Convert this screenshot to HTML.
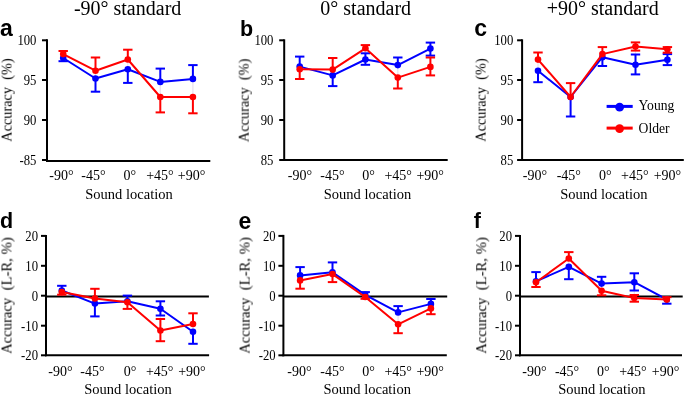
<!DOCTYPE html>
<html><head><meta charset="utf-8"><title>Figure</title><style>html,body{margin:0;padding:0;background:#fff;width:685px;height:395px;overflow:hidden;}svg{display:block;} text{will-change:transform;}</style></head><body>
<svg width="685" height="395" viewBox="0 0 685 395">
<rect width="685" height="395" fill="#fff"/>
<text x="127.6" y="14.6" font-family="&quot;Liberation Serif&quot;, serif" font-size="20" text-anchor="middle" fill="#000">-90° standard</text>
<text x="365.7" y="14.6" font-family="&quot;Liberation Serif&quot;, serif" font-size="20" text-anchor="middle" fill="#000">0° standard</text>
<text x="602.7" y="14.6" font-family="&quot;Liberation Serif&quot;, serif" font-size="20" text-anchor="middle" fill="#000">+90° standard</text>
<text x="-0.09999999999999998" y="35.9" font-family="&quot;Liberation Sans&quot;, sans-serif" font-weight="bold" font-size="23" fill="#000">a</text>
<text x="239.9" y="35.6" font-family="&quot;Liberation Sans&quot;, sans-serif" font-weight="bold" font-size="21.5" fill="#000">b</text>
<text x="474.2" y="36.0" font-family="&quot;Liberation Sans&quot;, sans-serif" font-weight="bold" font-size="23" fill="#000">c</text>
<text x="-0.09999999999999998" y="228.0" font-family="&quot;Liberation Sans&quot;, sans-serif" font-weight="bold" font-size="21.5" fill="#000">d</text>
<text x="238.6" y="228.6" font-family="&quot;Liberation Sans&quot;, sans-serif" font-weight="bold" font-size="23" fill="#000">e</text>
<text x="473.7" y="227.9" font-family="&quot;Liberation Sans&quot;, sans-serif" font-weight="bold" font-size="21.5" fill="#000">f</text>
<g stroke="#000" stroke-width="2.0" fill="none">
<line x1="47.0" y1="39.3" x2="47.0" y2="161.9"/>
<line x1="46.0" y1="160.9" x2="210.3" y2="160.9"/>
<line x1="42.0" y1="40.3" x2="47.0" y2="40.3"/>
<line x1="42.0" y1="80.0" x2="47.0" y2="80.0"/>
<line x1="42.0" y1="120.0" x2="47.0" y2="120.0"/>
<line x1="42.0" y1="160.0" x2="47.0" y2="160.0"/>
</g>
<text transform="translate(36.40,45.30) scale(0.92,1.001)" font-family="&quot;Liberation Serif&quot;, serif" font-size="13.8" text-anchor="end" fill="#000">100</text>
<text transform="translate(36.40,85.00) scale(0.92,1.001)" font-family="&quot;Liberation Serif&quot;, serif" font-size="13.8" text-anchor="end" fill="#000">95</text>
<text transform="translate(36.40,125.00) scale(0.92,1.001)" font-family="&quot;Liberation Serif&quot;, serif" font-size="13.8" text-anchor="end" fill="#000">90</text>
<text transform="translate(36.40,165.00) scale(0.92,1.001)" font-family="&quot;Liberation Serif&quot;, serif" font-size="13.8" text-anchor="end" fill="#000">-85</text>
<text x="61.50" y="180.00" font-family="&quot;Liberation Serif&quot;, serif" font-size="14" text-anchor="middle" fill="#000">-90°</text>
<text x="93.50" y="180.00" font-family="&quot;Liberation Serif&quot;, serif" font-size="14" text-anchor="middle" fill="#000">-45°</text>
<text x="129.80" y="180.00" font-family="&quot;Liberation Serif&quot;, serif" font-size="14" text-anchor="middle" fill="#000">0°</text>
<text x="159.90" y="180.00" font-family="&quot;Liberation Serif&quot;, serif" font-size="14" text-anchor="middle" fill="#000">+45°</text>
<text x="191.50" y="180.00" font-family="&quot;Liberation Serif&quot;, serif" font-size="14" text-anchor="middle" fill="#000">+90°</text>
<text x="129.0" y="198.5" font-family="&quot;Liberation Serif&quot;, serif" font-size="14.5" text-anchor="middle" fill="#000">Sound location</text>
<text transform="translate(11.60,100.1) rotate(-90)" font-family="&quot;Liberation Serif&quot;, serif" font-size="14.3" text-anchor="middle" fill="#000" xml:space="preserve">Accuracy  (%)</text>
<g stroke="#ebe1f0" stroke-width="1.3"><line x1="95.5" y1="70.7" x2="95.5" y2="78.5"/><line x1="127.8" y1="59.5" x2="127.8" y2="69.2"/><line x1="160.3" y1="81.9" x2="160.3" y2="97.0"/><line x1="192.9" y1="78.9" x2="192.9" y2="97.0"/></g>
<g stroke="#0000ff" stroke-width="2.0" fill="none"><line x1="63.2" y1="58.0" x2="63.2" y2="61.2"/><line x1="58.5" y1="61.2" x2="67.9" y2="61.2"/><line x1="95.5" y1="78.5" x2="95.5" y2="91.7"/><line x1="90.8" y1="91.7" x2="100.2" y2="91.7"/><line x1="127.8" y1="69.2" x2="127.8" y2="82.9"/><line x1="123.1" y1="82.9" x2="132.5" y2="82.9"/><line x1="160.3" y1="68.6" x2="160.3" y2="81.9"/><line x1="155.60000000000002" y1="68.6" x2="165.0" y2="68.6"/><line x1="192.9" y1="65.1" x2="192.9" y2="78.9"/><line x1="188.20000000000002" y1="65.1" x2="197.6" y2="65.1"/><polyline points="63.2,58.0 95.5,78.5 127.8,69.2 160.3,81.9 192.9,78.9" stroke-linejoin="round"/></g>
<circle cx="63.2" cy="58.0" r="3.3" fill="#0000ff"/><circle cx="95.5" cy="78.5" r="3.3" fill="#0000ff"/><circle cx="127.8" cy="69.2" r="3.3" fill="#0000ff"/><circle cx="160.3" cy="81.9" r="3.3" fill="#0000ff"/><circle cx="192.9" cy="78.9" r="3.3" fill="#0000ff"/>
<g stroke="#ff0000" stroke-width="2.0" fill="none"><line x1="63.2" y1="51.0" x2="63.2" y2="54.1"/><line x1="58.5" y1="51.0" x2="67.9" y2="51.0"/><line x1="95.5" y1="57.5" x2="95.5" y2="70.7"/><line x1="90.8" y1="57.5" x2="100.2" y2="57.5"/><line x1="127.8" y1="49.7" x2="127.8" y2="59.5"/><line x1="123.1" y1="49.7" x2="132.5" y2="49.7"/><line x1="160.3" y1="97.0" x2="160.3" y2="112.4"/><line x1="155.60000000000002" y1="112.4" x2="165.0" y2="112.4"/><line x1="192.9" y1="97.0" x2="192.9" y2="113.3"/><line x1="188.20000000000002" y1="113.3" x2="197.6" y2="113.3"/><polyline points="63.2,54.1 95.5,70.7 127.8,59.5 160.3,97.0 192.9,97.0" stroke-linejoin="round"/></g>
<circle cx="63.2" cy="54.1" r="3.3" fill="#ff0000"/><circle cx="95.5" cy="70.7" r="3.3" fill="#ff0000"/><circle cx="127.8" cy="59.5" r="3.3" fill="#ff0000"/><circle cx="160.3" cy="97.0" r="3.3" fill="#ff0000"/><circle cx="192.9" cy="97.0" r="3.3" fill="#ff0000"/>
<g stroke="#000" stroke-width="2.0" fill="none">
<line x1="284.2" y1="39.3" x2="284.2" y2="161.0"/>
<line x1="283.2" y1="160.0" x2="447.7" y2="160.0"/>
<line x1="279.2" y1="40.3" x2="284.2" y2="40.3"/>
<line x1="279.2" y1="80.0" x2="284.2" y2="80.0"/>
<line x1="279.2" y1="120.0" x2="284.2" y2="120.0"/>
<line x1="279.2" y1="160.0" x2="284.2" y2="160.0"/>
</g>
<text transform="translate(273.40,45.30) scale(0.92,1.001)" font-family="&quot;Liberation Serif&quot;, serif" font-size="13.8" text-anchor="end" fill="#000">100</text>
<text transform="translate(273.40,85.00) scale(0.92,1.001)" font-family="&quot;Liberation Serif&quot;, serif" font-size="13.8" text-anchor="end" fill="#000">95</text>
<text transform="translate(273.40,125.00) scale(0.92,1.001)" font-family="&quot;Liberation Serif&quot;, serif" font-size="13.8" text-anchor="end" fill="#000">90</text>
<text transform="translate(273.40,165.00) scale(0.92,1.001)" font-family="&quot;Liberation Serif&quot;, serif" font-size="13.8" text-anchor="end" fill="#000">85</text>
<text x="300.00" y="180.00" font-family="&quot;Liberation Serif&quot;, serif" font-size="14" text-anchor="middle" fill="#000">-90°</text>
<text x="332.40" y="180.00" font-family="&quot;Liberation Serif&quot;, serif" font-size="14" text-anchor="middle" fill="#000">-45°</text>
<text x="368.50" y="180.00" font-family="&quot;Liberation Serif&quot;, serif" font-size="14" text-anchor="middle" fill="#000">0°</text>
<text x="398.20" y="180.00" font-family="&quot;Liberation Serif&quot;, serif" font-size="14" text-anchor="middle" fill="#000">+45°</text>
<text x="430.20" y="180.00" font-family="&quot;Liberation Serif&quot;, serif" font-size="14" text-anchor="middle" fill="#000">+90°</text>
<text x="367.5" y="198.5" font-family="&quot;Liberation Serif&quot;, serif" font-size="14.5" text-anchor="middle" fill="#000">Sound location</text>
<text transform="translate(248.70,100.4) rotate(-90)" font-family="&quot;Liberation Serif&quot;, serif" font-size="14.3" text-anchor="middle" fill="#000" xml:space="preserve">Accuracy  (%)</text>
<g stroke="#ebe1f0" stroke-width="1.3"><line x1="365.4" y1="48.3" x2="365.4" y2="59.5"/><line x1="397.8" y1="65.1" x2="397.8" y2="77.6"/><line x1="430.4" y1="48.6" x2="430.4" y2="66.9"/></g>
<g stroke="#0000ff" stroke-width="2.0" fill="none"><line x1="299.7" y1="56.6" x2="299.7" y2="66.6"/><line x1="295.0" y1="56.6" x2="304.4" y2="56.6"/><line x1="332.7" y1="75.4" x2="332.7" y2="86.1"/><line x1="328.0" y1="86.1" x2="337.4" y2="86.1"/><line x1="365.4" y1="53.3" x2="365.4" y2="59.5"/><line x1="360.7" y1="53.3" x2="370.09999999999997" y2="53.3"/><line x1="365.4" y1="59.5" x2="365.4" y2="64.8"/><line x1="360.7" y1="64.8" x2="370.09999999999997" y2="64.8"/><line x1="397.8" y1="57.5" x2="397.8" y2="65.1"/><line x1="393.1" y1="57.5" x2="402.5" y2="57.5"/><line x1="430.4" y1="42.6" x2="430.4" y2="48.6"/><line x1="425.7" y1="42.6" x2="435.09999999999997" y2="42.6"/><line x1="430.4" y1="48.6" x2="430.4" y2="55.6"/><line x1="425.7" y1="55.6" x2="435.09999999999997" y2="55.6"/><polyline points="299.7,66.6 332.7,75.4 365.4,59.5 397.8,65.1 430.4,48.6" stroke-linejoin="round"/></g>
<circle cx="299.7" cy="66.6" r="3.3" fill="#0000ff"/><circle cx="332.7" cy="75.4" r="3.3" fill="#0000ff"/><circle cx="365.4" cy="59.5" r="3.3" fill="#0000ff"/><circle cx="397.8" cy="65.1" r="3.3" fill="#0000ff"/><circle cx="430.4" cy="48.6" r="3.3" fill="#0000ff"/>
<g stroke="#ff0000" stroke-width="2.0" fill="none"><line x1="299.7" y1="69.2" x2="299.7" y2="79.0"/><line x1="295.0" y1="79.0" x2="304.4" y2="79.0"/><line x1="332.7" y1="58.0" x2="332.7" y2="69.6"/><line x1="328.0" y1="58.0" x2="337.4" y2="58.0"/><line x1="365.4" y1="45.1" x2="365.4" y2="48.3"/><line x1="360.7" y1="45.1" x2="370.09999999999997" y2="45.1"/><line x1="397.8" y1="77.6" x2="397.8" y2="88.5"/><line x1="393.1" y1="88.5" x2="402.5" y2="88.5"/><line x1="430.4" y1="57.5" x2="430.4" y2="66.9"/><line x1="425.7" y1="57.5" x2="435.09999999999997" y2="57.5"/><line x1="430.4" y1="66.9" x2="430.4" y2="75.4"/><line x1="425.7" y1="75.4" x2="435.09999999999997" y2="75.4"/><polyline points="299.7,69.2 332.7,69.6 365.4,48.3 397.8,77.6 430.4,66.9" stroke-linejoin="round"/></g>
<circle cx="299.7" cy="69.2" r="3.3" fill="#ff0000"/><circle cx="332.7" cy="69.6" r="3.3" fill="#ff0000"/><circle cx="365.4" cy="48.3" r="3.3" fill="#ff0000"/><circle cx="397.8" cy="77.6" r="3.3" fill="#ff0000"/><circle cx="430.4" cy="66.9" r="3.3" fill="#ff0000"/>
<g stroke="#000" stroke-width="2.0" fill="none">
<line x1="522.1" y1="39.3" x2="522.1" y2="161.0"/>
<line x1="521.1" y1="160.0" x2="683.8" y2="160.0"/>
<line x1="517.1" y1="40.3" x2="522.1" y2="40.3"/>
<line x1="517.1" y1="80.0" x2="522.1" y2="80.0"/>
<line x1="517.1" y1="120.0" x2="522.1" y2="120.0"/>
<line x1="517.1" y1="160.0" x2="522.1" y2="160.0"/>
</g>
<text transform="translate(513.30,45.30) scale(0.92,1.001)" font-family="&quot;Liberation Serif&quot;, serif" font-size="13.8" text-anchor="end" fill="#000">100</text>
<text transform="translate(513.30,85.00) scale(0.92,1.001)" font-family="&quot;Liberation Serif&quot;, serif" font-size="13.8" text-anchor="end" fill="#000">95</text>
<text transform="translate(513.30,125.00) scale(0.92,1.001)" font-family="&quot;Liberation Serif&quot;, serif" font-size="13.8" text-anchor="end" fill="#000">90</text>
<text transform="translate(513.30,165.00) scale(0.92,1.001)" font-family="&quot;Liberation Serif&quot;, serif" font-size="13.8" text-anchor="end" fill="#000">85</text>
<text x="535.00" y="180.00" font-family="&quot;Liberation Serif&quot;, serif" font-size="14" text-anchor="middle" fill="#000">-90°</text>
<text x="568.80" y="180.00" font-family="&quot;Liberation Serif&quot;, serif" font-size="14" text-anchor="middle" fill="#000">-45°</text>
<text x="605.30" y="180.00" font-family="&quot;Liberation Serif&quot;, serif" font-size="14" text-anchor="middle" fill="#000">0°</text>
<text x="634.80" y="180.00" font-family="&quot;Liberation Serif&quot;, serif" font-size="14" text-anchor="middle" fill="#000">+45°</text>
<text x="667.40" y="180.00" font-family="&quot;Liberation Serif&quot;, serif" font-size="14" text-anchor="middle" fill="#000">+90°</text>
<text x="603.9" y="198.5" font-family="&quot;Liberation Serif&quot;, serif" font-size="14.5" text-anchor="middle" fill="#000">Sound location</text>
<text transform="translate(485.60,100.1) rotate(-90)" font-family="&quot;Liberation Serif&quot;, serif" font-size="14.3" text-anchor="middle" fill="#000" xml:space="preserve">Accuracy  (%)</text>
<g stroke="#ebe1f0" stroke-width="1.3"><line x1="538.0" y1="59.6" x2="538.0" y2="70.8"/><line x1="635.5" y1="46.5" x2="635.5" y2="64.8"/><line x1="667.4" y1="49.2" x2="667.4" y2="59.8"/></g>
<g stroke="#0000ff" stroke-width="2.0" fill="none"><line x1="538.0" y1="70.8" x2="538.0" y2="82.2"/><line x1="533.3" y1="82.2" x2="542.7" y2="82.2"/><line x1="570.6" y1="97.0" x2="570.6" y2="116.5"/><line x1="565.9" y1="116.5" x2="575.3000000000001" y2="116.5"/><line x1="602.4" y1="57.2" x2="602.4" y2="66.0"/><line x1="597.6999999999999" y1="66.0" x2="607.1" y2="66.0"/><line x1="635.5" y1="54.5" x2="635.5" y2="64.8"/><line x1="630.8" y1="54.5" x2="640.2" y2="54.5"/><line x1="635.5" y1="64.8" x2="635.5" y2="74.4"/><line x1="630.8" y1="74.4" x2="640.2" y2="74.4"/><line x1="667.4" y1="54.1" x2="667.4" y2="59.8"/><line x1="662.6999999999999" y1="54.1" x2="672.1" y2="54.1"/><line x1="667.4" y1="59.8" x2="667.4" y2="65.1"/><line x1="662.6999999999999" y1="65.1" x2="672.1" y2="65.1"/><polyline points="538.0,70.8 570.6,97.0 602.4,57.2 635.5,64.8 667.4,59.8" stroke-linejoin="round"/></g>
<circle cx="538.0" cy="70.8" r="3.3" fill="#0000ff"/><circle cx="570.6" cy="97.0" r="3.3" fill="#0000ff"/><circle cx="602.4" cy="57.2" r="3.3" fill="#0000ff"/><circle cx="635.5" cy="64.8" r="3.3" fill="#0000ff"/><circle cx="667.4" cy="59.8" r="3.3" fill="#0000ff"/>
<g stroke="#ff0000" stroke-width="2.0" fill="none"><line x1="538.0" y1="52.5" x2="538.0" y2="59.6"/><line x1="533.3" y1="52.5" x2="542.7" y2="52.5"/><line x1="570.6" y1="83.1" x2="570.6" y2="97.0"/><line x1="565.9" y1="83.1" x2="575.3000000000001" y2="83.1"/><line x1="602.4" y1="47.1" x2="602.4" y2="54.1"/><line x1="597.6999999999999" y1="47.1" x2="607.1" y2="47.1"/><line x1="635.5" y1="42.4" x2="635.5" y2="46.5"/><line x1="630.8" y1="42.4" x2="640.2" y2="42.4"/><line x1="635.5" y1="46.5" x2="635.5" y2="50.6"/><line x1="630.8" y1="50.6" x2="640.2" y2="50.6"/><line x1="667.4" y1="47.1" x2="667.4" y2="49.2"/><line x1="662.6999999999999" y1="47.1" x2="672.1" y2="47.1"/><line x1="667.4" y1="49.2" x2="667.4" y2="52.7"/><line x1="662.6999999999999" y1="52.7" x2="672.1" y2="52.7"/><polyline points="538.0,59.6 570.6,97.0 602.4,54.1 635.5,46.5 667.4,49.2" stroke-linejoin="round"/></g>
<circle cx="538.0" cy="59.6" r="3.3" fill="#ff0000"/><circle cx="570.6" cy="97.0" r="3.3" fill="#ff0000"/><circle cx="602.4" cy="54.1" r="3.3" fill="#ff0000"/><circle cx="635.5" cy="46.5" r="3.3" fill="#ff0000"/><circle cx="667.4" cy="49.2" r="3.3" fill="#ff0000"/>
<g stroke="#000" stroke-width="2.0" fill="none">
<line x1="46.0" y1="234.9" x2="46.0" y2="356.2"/>
<line x1="45.0" y1="355.2" x2="209.1" y2="355.2"/>
<line x1="41.0" y1="235.9" x2="46.0" y2="235.9"/>
<line x1="41.0" y1="265.8" x2="46.0" y2="265.8"/>
<line x1="41.0" y1="295.7" x2="46.0" y2="295.7"/>
<line x1="41.0" y1="325.7" x2="46.0" y2="325.7"/>
<line x1="41.0" y1="355.3" x2="46.0" y2="355.3"/>
<line x1="46.0" y1="296.4" x2="208.9" y2="296.4"/>
</g>
<text transform="translate(38.00,240.90) scale(0.92,1.001)" font-family="&quot;Liberation Serif&quot;, serif" font-size="13.8" text-anchor="end" fill="#000">20</text>
<text transform="translate(38.00,270.80) scale(0.92,1.001)" font-family="&quot;Liberation Serif&quot;, serif" font-size="13.8" text-anchor="end" fill="#000">10</text>
<text transform="translate(38.00,300.70) scale(0.92,1.001)" font-family="&quot;Liberation Serif&quot;, serif" font-size="13.8" text-anchor="end" fill="#000">0</text>
<text transform="translate(38.00,330.70) scale(0.92,1.001)" font-family="&quot;Liberation Serif&quot;, serif" font-size="13.8" text-anchor="end" fill="#000">-10</text>
<text transform="translate(38.00,360.30) scale(0.92,1.001)" font-family="&quot;Liberation Serif&quot;, serif" font-size="13.8" text-anchor="end" fill="#000">-20</text>
<text x="60.50" y="375.50" font-family="&quot;Liberation Serif&quot;, serif" font-size="14" text-anchor="middle" fill="#000">-90°</text>
<text x="92.50" y="375.50" font-family="&quot;Liberation Serif&quot;, serif" font-size="14" text-anchor="middle" fill="#000">-45°</text>
<text x="130.10" y="375.50" font-family="&quot;Liberation Serif&quot;, serif" font-size="14" text-anchor="middle" fill="#000">0°</text>
<text x="159.70" y="375.50" font-family="&quot;Liberation Serif&quot;, serif" font-size="14" text-anchor="middle" fill="#000">+45°</text>
<text x="191.90" y="375.50" font-family="&quot;Liberation Serif&quot;, serif" font-size="14" text-anchor="middle" fill="#000">+90°</text>
<text x="128.0" y="394.1" font-family="&quot;Liberation Serif&quot;, serif" font-size="14.5" text-anchor="middle" fill="#000">Sound location</text>
<text transform="translate(11.50,295.6) rotate(-90)" font-family="&quot;Liberation Serif&quot;, serif" font-size="14.7" text-anchor="middle" fill="#000" xml:space="preserve">Accuracy  (L-R, %)</text>
<g stroke="#ebe1f0" stroke-width="1.3"><line x1="160.4" y1="308.7" x2="160.4" y2="330.5"/><line x1="193.0" y1="324.0" x2="193.0" y2="331.8"/></g>
<g stroke="#0000ff" stroke-width="2.0" fill="none"><line x1="61.8" y1="285.8" x2="61.8" y2="290.5"/><line x1="57.099999999999994" y1="285.8" x2="66.5" y2="285.8"/><line x1="94.9" y1="303.6" x2="94.9" y2="316.4"/><line x1="90.2" y1="316.4" x2="99.60000000000001" y2="316.4"/><line x1="127.4" y1="295.6" x2="127.4" y2="301.3"/><line x1="122.7" y1="295.6" x2="132.1" y2="295.6"/><line x1="160.4" y1="301.3" x2="160.4" y2="308.7"/><line x1="155.70000000000002" y1="301.3" x2="165.1" y2="301.3"/><line x1="160.4" y1="308.7" x2="160.4" y2="315.5"/><line x1="155.70000000000002" y1="315.5" x2="165.1" y2="315.5"/><line x1="193.0" y1="331.8" x2="193.0" y2="343.8"/><line x1="188.3" y1="343.8" x2="197.7" y2="343.8"/><polyline points="61.8,290.5 94.9,303.6 127.4,301.3 160.4,308.7 193.0,331.8" stroke-linejoin="round"/></g>
<circle cx="61.8" cy="290.5" r="3.3" fill="#0000ff"/><circle cx="94.9" cy="303.6" r="3.3" fill="#0000ff"/><circle cx="127.4" cy="301.3" r="3.3" fill="#0000ff"/><circle cx="160.4" cy="308.7" r="3.3" fill="#0000ff"/><circle cx="193.0" cy="331.8" r="3.3" fill="#0000ff"/>
<g stroke="#ff0000" stroke-width="2.0" fill="none"><line x1="61.8" y1="292.1" x2="61.8" y2="294.7"/><line x1="57.099999999999994" y1="294.7" x2="66.5" y2="294.7"/><line x1="94.9" y1="288.8" x2="94.9" y2="298.4"/><line x1="90.2" y1="288.8" x2="99.60000000000001" y2="288.8"/><line x1="127.4" y1="302.2" x2="127.4" y2="308.9"/><line x1="122.7" y1="308.9" x2="132.1" y2="308.9"/><line x1="160.4" y1="319.0" x2="160.4" y2="330.5"/><line x1="155.70000000000002" y1="319.0" x2="165.1" y2="319.0"/><line x1="160.4" y1="330.5" x2="160.4" y2="341.2"/><line x1="155.70000000000002" y1="341.2" x2="165.1" y2="341.2"/><line x1="193.0" y1="313.3" x2="193.0" y2="324.0"/><line x1="188.3" y1="313.3" x2="197.7" y2="313.3"/><polyline points="61.8,292.1 94.9,298.4 127.4,302.2 160.4,330.5 193.0,324.0" stroke-linejoin="round"/></g>
<circle cx="61.8" cy="292.1" r="3.3" fill="#ff0000"/><circle cx="94.9" cy="298.4" r="3.3" fill="#ff0000"/><circle cx="127.4" cy="302.2" r="3.3" fill="#ff0000"/><circle cx="160.4" cy="330.5" r="3.3" fill="#ff0000"/><circle cx="193.0" cy="324.0" r="3.3" fill="#ff0000"/>
<g stroke="#000" stroke-width="2.0" fill="none">
<line x1="283.4" y1="234.9" x2="283.4" y2="356.3"/>
<line x1="282.4" y1="355.3" x2="446.8" y2="355.3"/>
<line x1="278.4" y1="235.9" x2="283.4" y2="235.9"/>
<line x1="278.4" y1="265.8" x2="283.4" y2="265.8"/>
<line x1="278.4" y1="295.7" x2="283.4" y2="295.7"/>
<line x1="278.4" y1="325.7" x2="283.4" y2="325.7"/>
<line x1="278.4" y1="355.3" x2="283.4" y2="355.3"/>
<line x1="283.4" y1="296.4" x2="447.2" y2="296.4"/>
</g>
<text transform="translate(275.70,240.90) scale(0.92,1.001)" font-family="&quot;Liberation Serif&quot;, serif" font-size="13.8" text-anchor="end" fill="#000">20</text>
<text transform="translate(275.70,270.80) scale(0.92,1.001)" font-family="&quot;Liberation Serif&quot;, serif" font-size="13.8" text-anchor="end" fill="#000">10</text>
<text transform="translate(275.70,300.70) scale(0.92,1.001)" font-family="&quot;Liberation Serif&quot;, serif" font-size="13.8" text-anchor="end" fill="#000">0</text>
<text transform="translate(275.70,330.70) scale(0.92,1.001)" font-family="&quot;Liberation Serif&quot;, serif" font-size="13.8" text-anchor="end" fill="#000">-10</text>
<text transform="translate(275.70,360.30) scale(0.92,1.001)" font-family="&quot;Liberation Serif&quot;, serif" font-size="13.8" text-anchor="end" fill="#000">-20</text>
<text x="299.40" y="375.50" font-family="&quot;Liberation Serif&quot;, serif" font-size="14" text-anchor="middle" fill="#000">-90°</text>
<text x="332.40" y="375.50" font-family="&quot;Liberation Serif&quot;, serif" font-size="14" text-anchor="middle" fill="#000">-45°</text>
<text x="368.50" y="375.50" font-family="&quot;Liberation Serif&quot;, serif" font-size="14" text-anchor="middle" fill="#000">0°</text>
<text x="398.20" y="375.50" font-family="&quot;Liberation Serif&quot;, serif" font-size="14" text-anchor="middle" fill="#000">+45°</text>
<text x="430.20" y="375.50" font-family="&quot;Liberation Serif&quot;, serif" font-size="14" text-anchor="middle" fill="#000">+90°</text>
<text x="367.2" y="394.1" font-family="&quot;Liberation Serif&quot;, serif" font-size="14.5" text-anchor="middle" fill="#000">Sound location</text>
<text transform="translate(249.60,295.5) rotate(-90)" font-family="&quot;Liberation Serif&quot;, serif" font-size="14.7" text-anchor="middle" fill="#000" xml:space="preserve">Accuracy  (L-R, %)</text>
<g stroke="#ebe1f0" stroke-width="1.3"><line x1="398.1" y1="312.4" x2="398.1" y2="324.3"/></g>
<g stroke="#0000ff" stroke-width="2.0" fill="none"><line x1="300.1" y1="267.1" x2="300.1" y2="275.4"/><line x1="295.40000000000003" y1="267.1" x2="304.8" y2="267.1"/><line x1="332.5" y1="262.4" x2="332.5" y2="272.2"/><line x1="327.8" y1="262.4" x2="337.2" y2="262.4"/><line x1="365.2" y1="292.1" x2="365.2" y2="294.9"/><line x1="360.5" y1="292.1" x2="369.9" y2="292.1"/><line x1="398.1" y1="306.1" x2="398.1" y2="312.4"/><line x1="393.40000000000003" y1="306.1" x2="402.8" y2="306.1"/><line x1="430.9" y1="299.0" x2="430.9" y2="303.9"/><line x1="426.2" y1="299.0" x2="435.59999999999997" y2="299.0"/><polyline points="300.1,275.4 332.5,272.2 365.2,294.9 398.1,312.4 430.9,303.9" stroke-linejoin="round"/></g>
<circle cx="300.1" cy="275.4" r="3.3" fill="#0000ff"/><circle cx="332.5" cy="272.2" r="3.3" fill="#0000ff"/><circle cx="365.2" cy="294.9" r="3.3" fill="#0000ff"/><circle cx="398.1" cy="312.4" r="3.3" fill="#0000ff"/><circle cx="430.9" cy="303.9" r="3.3" fill="#0000ff"/>
<g stroke="#ff0000" stroke-width="2.0" fill="none"><line x1="300.1" y1="280.4" x2="300.1" y2="288.7"/><line x1="295.40000000000003" y1="288.7" x2="304.8" y2="288.7"/><line x1="332.5" y1="274.1" x2="332.5" y2="282.1"/><line x1="327.8" y1="282.1" x2="337.2" y2="282.1"/><line x1="365.2" y1="297.0" x2="365.2" y2="298.8"/><line x1="360.5" y1="298.8" x2="369.9" y2="298.8"/><line x1="398.1" y1="324.3" x2="398.1" y2="333.2"/><line x1="393.40000000000003" y1="333.2" x2="402.8" y2="333.2"/><line x1="430.9" y1="308.4" x2="430.9" y2="314.2"/><line x1="426.2" y1="314.2" x2="435.59999999999997" y2="314.2"/><polyline points="300.1,280.4 332.5,274.1 365.2,297.0 398.1,324.3 430.9,308.4" stroke-linejoin="round"/></g>
<circle cx="300.1" cy="280.4" r="3.3" fill="#ff0000"/><circle cx="332.5" cy="274.1" r="3.3" fill="#ff0000"/><circle cx="365.2" cy="297.0" r="3.3" fill="#ff0000"/><circle cx="398.1" cy="324.3" r="3.3" fill="#ff0000"/><circle cx="430.9" cy="308.4" r="3.3" fill="#ff0000"/>
<g stroke="#000" stroke-width="2.0" fill="none">
<line x1="520.0" y1="234.9" x2="520.0" y2="356.2"/>
<line x1="519.0" y1="355.2" x2="682.0" y2="355.2"/>
<line x1="515.0" y1="235.9" x2="520.0" y2="235.9"/>
<line x1="515.0" y1="265.8" x2="520.0" y2="265.8"/>
<line x1="515.0" y1="295.7" x2="520.0" y2="295.7"/>
<line x1="515.0" y1="325.7" x2="520.0" y2="325.7"/>
<line x1="515.0" y1="355.3" x2="520.0" y2="355.3"/>
<line x1="520.0" y1="296.4" x2="682.7" y2="296.4"/>
</g>
<text transform="translate(512.00,240.90) scale(0.92,1.001)" font-family="&quot;Liberation Serif&quot;, serif" font-size="13.8" text-anchor="end" fill="#000">20</text>
<text transform="translate(512.00,270.80) scale(0.92,1.001)" font-family="&quot;Liberation Serif&quot;, serif" font-size="13.8" text-anchor="end" fill="#000">10</text>
<text transform="translate(512.00,300.70) scale(0.92,1.001)" font-family="&quot;Liberation Serif&quot;, serif" font-size="13.8" text-anchor="end" fill="#000">0</text>
<text transform="translate(512.00,330.70) scale(0.92,1.001)" font-family="&quot;Liberation Serif&quot;, serif" font-size="13.8" text-anchor="end" fill="#000">-10</text>
<text transform="translate(512.00,360.30) scale(0.92,1.001)" font-family="&quot;Liberation Serif&quot;, serif" font-size="13.8" text-anchor="end" fill="#000">-20</text>
<text x="534.50" y="375.50" font-family="&quot;Liberation Serif&quot;, serif" font-size="14" text-anchor="middle" fill="#000">-90°</text>
<text x="567.10" y="375.50" font-family="&quot;Liberation Serif&quot;, serif" font-size="14" text-anchor="middle" fill="#000">-45°</text>
<text x="603.40" y="375.50" font-family="&quot;Liberation Serif&quot;, serif" font-size="14" text-anchor="middle" fill="#000">0°</text>
<text x="632.90" y="375.50" font-family="&quot;Liberation Serif&quot;, serif" font-size="14" text-anchor="middle" fill="#000">+45°</text>
<text x="665.50" y="375.50" font-family="&quot;Liberation Serif&quot;, serif" font-size="14" text-anchor="middle" fill="#000">+90°</text>
<text x="601.9" y="394.1" font-family="&quot;Liberation Serif&quot;, serif" font-size="14.5" text-anchor="middle" fill="#000">Sound location</text>
<text transform="translate(486.20,295.5) rotate(-90)" font-family="&quot;Liberation Serif&quot;, serif" font-size="14.7" text-anchor="middle" fill="#000" xml:space="preserve">Accuracy  (L-R, %)</text>
<g stroke="#ebe1f0" stroke-width="1.3"><line x1="568.8" y1="258.5" x2="568.8" y2="266.9"/><line x1="601.6" y1="283.6" x2="601.6" y2="290.7"/><line x1="634.3" y1="282.2" x2="634.3" y2="298.1"/></g>
<g stroke="#0000ff" stroke-width="2.0" fill="none"><line x1="536.0" y1="272.1" x2="536.0" y2="281.3"/><line x1="531.3" y1="272.1" x2="540.7" y2="272.1"/><line x1="568.8" y1="266.9" x2="568.8" y2="279.2"/><line x1="564.0999999999999" y1="279.2" x2="573.5" y2="279.2"/><line x1="601.6" y1="276.8" x2="601.6" y2="283.6"/><line x1="596.9" y1="276.8" x2="606.3000000000001" y2="276.8"/><line x1="634.3" y1="273.3" x2="634.3" y2="282.2"/><line x1="629.5999999999999" y1="273.3" x2="639.0" y2="273.3"/><line x1="634.3" y1="282.2" x2="634.3" y2="290.5"/><line x1="629.5999999999999" y1="290.5" x2="639.0" y2="290.5"/><line x1="666.8" y1="299.4" x2="666.8" y2="303.7"/><line x1="662.0999999999999" y1="303.7" x2="671.5" y2="303.7"/><polyline points="536.0,281.3 568.8,266.9 601.6,283.6 634.3,282.2 666.8,299.4" stroke-linejoin="round"/></g>
<circle cx="536.0" cy="281.3" r="3.3" fill="#0000ff"/><circle cx="568.8" cy="266.9" r="3.3" fill="#0000ff"/><circle cx="601.6" cy="283.6" r="3.3" fill="#0000ff"/><circle cx="634.3" cy="282.2" r="3.3" fill="#0000ff"/><circle cx="666.8" cy="299.4" r="3.3" fill="#0000ff"/>
<g stroke="#ff0000" stroke-width="2.0" fill="none"><line x1="536.0" y1="282.3" x2="536.0" y2="287.0"/><line x1="531.3" y1="287.0" x2="540.7" y2="287.0"/><line x1="568.8" y1="252.1" x2="568.8" y2="258.5"/><line x1="564.0999999999999" y1="252.1" x2="573.5" y2="252.1"/><line x1="601.6" y1="290.7" x2="601.6" y2="295.3"/><line x1="596.9" y1="295.3" x2="606.3000000000001" y2="295.3"/><line x1="634.3" y1="295.0" x2="634.3" y2="298.1"/><line x1="629.5999999999999" y1="295.0" x2="639.0" y2="295.0"/><line x1="634.3" y1="298.1" x2="634.3" y2="301.7"/><line x1="629.5999999999999" y1="301.7" x2="639.0" y2="301.7"/><line x1="666.8" y1="297.2" x2="666.8" y2="299.6"/><line x1="662.0999999999999" y1="297.2" x2="671.5" y2="297.2"/><polyline points="536.0,282.3 568.8,258.5 601.6,290.7 634.3,298.1 666.8,299.6" stroke-linejoin="round"/></g>
<circle cx="536.0" cy="282.3" r="3.3" fill="#ff0000"/><circle cx="568.8" cy="258.5" r="3.3" fill="#ff0000"/><circle cx="601.6" cy="290.7" r="3.3" fill="#ff0000"/><circle cx="634.3" cy="298.1" r="3.3" fill="#ff0000"/><circle cx="666.8" cy="299.6" r="3.3" fill="#ff0000"/>
<g stroke-width="3" fill="none"><line x1="606.6" y1="106.4" x2="632.7" y2="106.4" stroke="#0000ff"/><line x1="606.6" y1="128.1" x2="632.7" y2="128.1" stroke="#ff0000"/></g>
<circle cx="619.6" cy="107.2" r="4.4" fill="#0000ff"/><circle cx="619.6" cy="128.6" r="4.4" fill="#ff0000"/>
<text transform="translate(638.60,109.90) scale(0.96,1.08)" font-family="&quot;Liberation Serif&quot;, serif" font-size="14.2" text-anchor="start" fill="#000">Young</text>
<text transform="translate(638.60,133.30) scale(0.96,1.08)" font-family="&quot;Liberation Serif&quot;, serif" font-size="14.2" text-anchor="start" fill="#000">Older</text>
</svg></body></html>
